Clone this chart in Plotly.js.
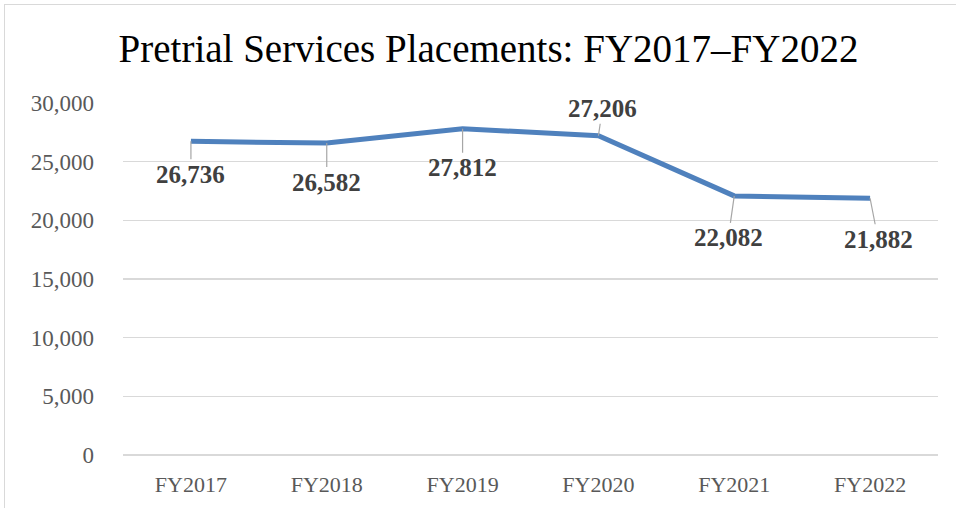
<!DOCTYPE html>
<html>
<head>
<meta charset="utf-8">
<script src="https://cdn.plot.ly/plotly-3.0.1.min.js"></script>
<style>
html,body{margin:0;padding:0;background:#fff;}
#chart{width:956px;height:508px;}
#frame{position:absolute;left:4px;top:4px;width:1000px;height:600px;border:1.5px solid #d9d9d9;pointer-events:none;}
</style>
</head>
<body>
<div id="chart"></div>
<div id="frame"></div>
<script>
const categories = ["FY2017","FY2018","FY2019","FY2020","FY2021","FY2022"];
const placements = [26736, 26582, 27812, 27206, 22082, 21882];
const yTicks = [0, 5000, 10000, 15000, 20000, 25000, 30000];

// label offsets (pixels) from each point, layout only
const labelOffsets = [[0, 33], [0, 39], [0, 39], [4, -27], [-6, 42], [8, 41]];

const serif = "Liberation Serif, Times New Roman, serif";

const trace = {
  x: categories,
  y: placements,
  type: "scatter",
  mode: "lines",
  line: {color: "#4f81bd", width: 5},
  hoverinfo: "skip"
};

const annotations = categories.map((c, i) => ({
  x: c, y: placements[i], xref: "x", yref: "y",
  text: "<b>" + placements[i].toLocaleString("en-US") + "</b>",
  showarrow: true, arrowhead: 0, arrowwidth: 1.2, arrowcolor: "#a6a6a6",
  ax: labelOffsets[i][0], ay: labelOffsets[i][1], standoff: 0,
  font: {family: serif, size: 25, color: "#404040"}
}));

const layout = {
  width: 956, height: 508,
  margin: {l: 123, r: 18, t: 103, b: 53},
  paper_bgcolor: "#fff", plot_bgcolor: "#fff",
  showlegend: false,
  title: {
    text: "Pretrial Services Placements: FY2017–FY2022",
    font: {family: serif, size: 39, color: "#000"},
    x: 0.511, xref: "container", xanchor: "center",
    y: 0.905, yref: "container", yanchor: "middle"
  },
  xaxis: {
    type: "category",
    range: [-0.5, 5.5],
    tickfont: {family: serif, size: 22, color: "#595959"},
    showgrid: false, zeroline: false, showline: false,
    ticks: "", ticklabelstandoff: 14, fixedrange: true
  },
  yaxis: {
    range: [0, 30000],
    tickvals: yTicks,
    ticktext: yTicks.map(v => v.toLocaleString("en-US")),
    tickfont: {family: serif, size: 23, color: "#595959"},
    showgrid: true, gridcolor: "#d9d9d9", gridwidth: 1.5,
    zeroline: true, zerolinecolor: "#d9d9d9", zerolinewidth: 1.5,
    showline: false, ticks: "", ticklabelstandoff: 28, fixedrange: true
  },
  annotations: annotations
};

Plotly.newPlot("chart", [trace], layout, {displayModeBar: false, staticPlot: true});
</script>
</body>
</html>
